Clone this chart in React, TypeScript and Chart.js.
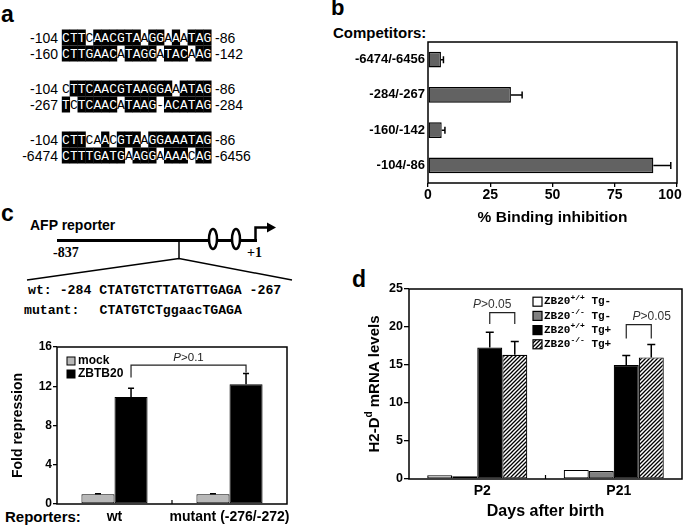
import React, { useEffect, useRef } from 'react';
import { Chart, registerables } from 'chart.js';

Chart.register(...registerables);

const SANS = '"Liberation Sans", Arial, Helvetica, sans-serif';
const MONO = '"Liberation Mono", "Courier New", monospace';
const SERIF = '"Liberation Serif", "Times New Roman", serif';

// ---------- Panel a: sequence alignments ----------
const alignLeft = ['-104', '-160', '-104', '-267', '-104', '-6474'];
const alignSeq = [
  'CTTCAACGTAAGGAAATAG',
  'CTTGAACATAGGATACAAG',
  'CTTCAACGTAAGGAAATAG',
  'TCTCAACATAAG-ACATAG',
  'CTTCAACGTAAGGAAATAG',
  'CTTTGATGAAGGAAAACAG',
];
const alignRight = ['-86', '-142', '-86', '-284', '-86', '-6456'];
const alignWhite = [[4, 11, 14, 16], [8, 13, 17], [1, 15], [2, 8, 13], [4, 5, 7, 11], [9, 13, 17]];

// ---------- Panel b ----------
const competitorLabels = ['-6474/-6456', '-284/-267', '-160/-142', '-104/-86'];
const bindingInhibition = [5.2, 33.3, 5.5, 90.5];
const bindingInhibitionErr = [1.0, 4.5, 1.3, 7.0];

// ---------- Panel c ----------
const reporterLabels = ['wt', 'mutant (-276/-272)'];
const mockFold = [1.0, 1.0];
const mockFoldErr = [0.05, 0.05];
const zbtb20Fold = [10.9, 12.2];
const zbtb20FoldErr = [0.9, 1.1];
const legendC = ['mock', 'ZBTB20'];

// ---------- Panel d ----------
const dayLabels = ['P2', 'P21'];
const wtTgNeg = [0.5, 1.2];
const koTgNeg = [0.35, 1.05];
const wtTgPos = [17.3, 15.0];
const wtTgPosErr = [2.0, 1.25];
const koTgPos = [16.35, 16.0];
const koTgPosErr = [1.75, 1.7];
const legendD = [
  ['ZB20', '+/+', ' Tg-'],
  ['ZB20', '-/-', ' Tg-'],
  ['ZB20', '+/+', ' Tg+'],
  ['ZB20', '-/-', ' Tg+'],
];

const fixBox = (w?: number, h?: number) => (s: any) => {
  if (w !== undefined) s.width = w;
  if (h !== undefined) s.height = h;
  s.paddingLeft = 0;
  s.paddingRight = 0;
  s.paddingTop = 0;
  s.paddingBottom = 0;
};

const framePlugin = {
  id: 'frame',
  afterDatasetsDraw(chart: any) {
    const { ctx, chartArea: a } = chart;
    ctx.save();
    ctx.strokeStyle = '#000';
    ctx.lineWidth = 1.5;
    ctx.strokeRect(a.left, a.top, a.right - a.left, a.bottom - a.top);
    ctx.restore();
  },
};

// nudge the last x tick label inwards (as in the original figure)
const lastLabelShift = (dx: number) => ({
  id: 'lastLabelShift',
  beforeDraw(chart: any) {
    const items = chart.scales.x.getLabelItems();
    const last = items[items.length - 1];
    if (last && !last.__shifted) {
      last.options.translation[0] += dx;
      last.__shifted = true;
    }
  },
});

function errorBarsPlugin(errs: (number[] | null)[], horizontal: boolean, cap: number, lw: number) {
  return {
    id: 'errbars',
    afterDatasetsDraw(chart: any) {
      const ctx = chart.ctx;
      const vs = horizontal ? chart.scales.x : chart.scales.y;
      ctx.save();
      ctx.strokeStyle = '#000';
      ctx.lineWidth = lw;
      errs.forEach((arr, di) => {
        if (!arr) return;
        const meta = chart.getDatasetMeta(di);
        meta.data.forEach((el: any, i: number) => {
          const e = arr[i];
          if (!e) return;
          const v = chart.data.datasets[di].data[i] as number;
          const p0 = vs.getPixelForValue(v);
          const p1 = vs.getPixelForValue(v + e);
          ctx.beginPath();
          if (horizontal) {
            ctx.moveTo(p0, el.y); ctx.lineTo(p1, el.y);
            ctx.moveTo(p1, el.y - cap / 2); ctx.lineTo(p1, el.y + cap / 2);
          } else {
            ctx.moveTo(el.x, p0); ctx.lineTo(el.x, p1);
            ctx.moveTo(el.x - cap / 2, p1); ctx.lineTo(el.x + cap / 2, p1);
          }
          ctx.stroke();
        });
      });
      ctx.restore();
    },
  };
}

const midTickPlugin = (len: number) => ({
  id: 'midtick',
  afterDatasetsDraw(chart: any) {
    const { ctx, chartArea: a } = chart;
    const xs = chart.scales.x;
    ctx.save();
    ctx.strokeStyle = '#000';
    ctx.lineWidth = 1.2;
    ctx.beginPath();
    for (let i = 0; i < xs.ticks.length - 1; i++) {
      const m = (xs.getPixelForValue(i) + xs.getPixelForValue(i + 1)) / 2;
      ctx.moveTo(m, a.bottom);
      ctx.lineTo(m, a.bottom - len);
    }
    ctx.stroke();
    ctx.restore();
  },
});

function drawBracket(ctx: any, x0: number, x1: number, yTop: number, yB0: number, yB1: number) {
  ctx.beginPath();
  ctx.moveTo(x0, yB0);
  ctx.lineTo(x0, yTop);
  ctx.lineTo(x1, yTop);
  ctx.lineTo(x1, yB1);
  ctx.stroke();
}

function drawPText(ctx: any, cx: number, cy: number, size: number, rest: string) {
  ctx.font = `italic ${size}px ${SANS}`;
  const wP = ctx.measureText('P').width;
  ctx.font = `${size}px ${SANS}`;
  const wR = ctx.measureText(rest).width;
  const x0 = cx - (wP + wR) / 2;
  ctx.textBaseline = 'middle';
  ctx.textAlign = 'left';
  ctx.font = `italic ${size}px ${SANS}`;
  ctx.fillText('P', x0, cy);
  ctx.font = `${size}px ${SANS}`;
  ctx.fillText(rest, x0 + wP, cy);
}

function drawSupParts(ctx: any, x: number, y: number, parts: [string, boolean][], base: string, sup: string, rise: number) {
  let cx = x;
  ctx.textBaseline = 'middle';
  ctx.textAlign = 'left';
  parts.forEach(([t, s]) => {
    ctx.font = s ? sup : base;
    ctx.fillText(t, cx, s ? y - rise : y);
    cx += ctx.measureText(t).width;
  });
  return cx - x;
}

function measureParts(ctx: any, parts: [string, boolean][], base: string, sup: string) {
  let w = 0;
  parts.forEach(([t, s]) => {
    ctx.font = s ? sup : base;
    w += ctx.measureText(t).width;
  });
  return w;
}

export default function App() {
  const bRef = useRef<HTMLCanvasElement>(null);
  const cRef = useRef<HTMLCanvasElement>(null);
  const dRef = useRef<HTMLCanvasElement>(null);

  useEffect(() => {
    Chart.defaults.color = '#000';
    Chart.defaults.font.family = SANS;
    const charts: Chart[] = [];

    // ---------- b ----------
    charts.push(
      new Chart(bRef.current as HTMLCanvasElement, {
        type: 'bar',
        data: {
          labels: competitorLabels,
          datasets: [
            {
              label: '% Binding inhibition',
              data: bindingInhibition,
              backgroundColor: '#626262',
              borderColor: '#000',
              borderWidth: 1.3,
              borderSkipped: false,
              barPercentage: 0.44,
              categoryPercentage: 1,
            },
          ],
        },
        options: {
          indexAxis: 'y',
          animation: false,
          responsive: false,
          maintainAspectRatio: false,
          layout: { padding: { left: 0, right: 8, top: 22, bottom: 0 } },
          plugins: { legend: { display: false }, tooltip: { enabled: false } },
          scales: {
            x: {
              type: 'linear',
              min: 0,
              max: 100,
              ticks: { stepSize: 25, padding: 0, maxRotation: 0, font: { size: 14, weight: 'bold' } },
              grid: { drawOnChartArea: false, drawTicks: true, tickLength: 4, color: '#000', lineWidth: 1.3 },
              border: { display: false },
              title: {
                display: true,
                text: '% Binding inhibition',
                font: { size: 15.5, weight: 'bold' },
                padding: { top: 0, bottom: 8 },
              },
              afterFit: fixBox(undefined, 52),
            },
            y: {
              grid: { display: false, drawTicks: false },
              border: { display: false },
              ticks: { padding: 3, font: { size: 13, weight: 'bold' } },
              afterFit: fixBox(98),
            },
          },
        },
        plugins: [lastLabelShift(-7), errorBarsPlugin([bindingInhibitionErr], true, 7, 1.5), framePlugin],
      } as any)
    );

    // ---------- c ----------
    const bracketC = {
      id: 'bracketC',
      afterDatasetsDraw(chart: any) {
        const { ctx, chartArea: a } = chart;
        const ys = chart.scales.y;
        const m = chart.getDatasetMeta(1);
        const x0 = m.data[0].x;
        const x1 = m.data[1].x;
        ctx.save();
        ctx.strokeStyle = '#222';
        ctx.lineWidth = 1.2;
        drawBracket(ctx, x0, x1, ys.getPixelForValue(14.15), ys.getPixelForValue(12.9), ys.getPixelForValue(13.4));
        ctx.fillStyle = '#222';
        drawPText(ctx, (x0 + x1) / 2, ys.getPixelForValue(14.15) - 7, 11.5, '>0.1');
        // legend
        const fills = ['#b8b8b8', '#000'];
        ctx.font = `bold 12px ${SANS}`;
        legendC.forEach((t, i) => {
          const cy = a.top + 14 + i * 13;
          ctx.fillStyle = fills[i];
          ctx.fillRect(a.left + 10, cy - 4, 8, 8);
          ctx.strokeStyle = '#000';
          ctx.lineWidth = 1;
          ctx.strokeRect(a.left + 10, cy - 4, 8, 8);
          ctx.fillStyle = '#000';
          ctx.textBaseline = 'middle';
          ctx.textAlign = 'left';
          ctx.font = `bold 12px ${SANS}`;
          ctx.fillText(t, a.left + 21, cy);
        });
        ctx.restore();
      },
    };
    charts.push(
      new Chart(cRef.current as HTMLCanvasElement, {
        type: 'bar',
        data: {
          labels: reporterLabels,
          datasets: [
            {
              label: 'mock',
              data: mockFold,
              backgroundColor: '#b8b8b8',
              borderColor: '#000',
              borderWidth: 1,
              borderSkipped: false,
              barPercentage: 1,
              categoryPercentage: 0.575,
            },
            {
              label: 'ZBTB20',
              data: zbtb20Fold,
              backgroundColor: '#000',
              borderColor: '#000',
              borderWidth: 1,
              borderSkipped: false,
              barPercentage: 1,
              categoryPercentage: 0.575,
            },
          ],
        },
        options: {
          animation: false,
          responsive: false,
          maintainAspectRatio: false,
          layout: { padding: { left: 0, right: 13, top: 12, bottom: 0 } },
          plugins: { legend: { display: false }, tooltip: { enabled: false } },
          scales: {
            x: {
              grid: { display: false, drawTicks: false },
              border: { display: false },
              ticks: { padding: 4.6, autoSkip: false, maxRotation: 0, minRotation: 0, font: { size: 14, weight: 'bold' } },
              afterFit: fixBox(undefined, 23),
            },
            y: {
              min: 0,
              max: 16,
              ticks: { stepSize: 4, padding: 1, font: { size: 12, weight: 'bold' } },
              grid: { drawOnChartArea: false, drawTicks: true, tickLength: 4, color: '#000', lineWidth: 1.3 },
              border: { display: false },
              title: {
                display: true,
                text: 'Fold repression',
                font: { size: 14, weight: 'bold' },
                padding: { top: 9.6, bottom: 0 },
              },
              afterFit: fixBox(57),
            },
          },
        },
        plugins: [errorBarsPlugin([mockFoldErr, zbtb20FoldErr], false, 6, 1.5), framePlugin, midTickPlugin(4), bracketC],
      } as any)
    );

    // ---------- d ----------
    const pc = document.createElement('canvas');
    pc.width = 4;
    pc.height = 4;
    const g = pc.getContext('2d') as CanvasRenderingContext2D;
    g.fillStyle = '#fff';
    g.fillRect(0, 0, 4, 4);
    g.strokeStyle = '#000';
    g.lineWidth = 1.3;
    g.beginPath();
    g.moveTo(-1, 5); g.lineTo(5, -1);
    g.moveTo(-1, 1); g.lineTo(1, -1);
    g.moveTo(3, 5); g.lineTo(5, 3);
    g.stroke();
    const dctx = (dRef.current as HTMLCanvasElement).getContext('2d') as CanvasRenderingContext2D;
    const hatch = dctx.createPattern(pc, 'repeat');
    const fillsD: any[] = ['#fff', '#808080', '#000', hatch];

    const annotD = {
      id: 'annotD',
      afterDatasetsDraw(chart: any) {
        const { ctx, chartArea: a } = chart;
        const ys = chart.scales.y;
        const m2 = chart.getDatasetMeta(2);
        const m3 = chart.getDatasetMeta(3);
        const brackets = [
          { i: 0, top: 21.9, bottom: 20.4, textY: 23.0, dx: -10 },
          { i: 1, top: 20.3, bottom: 18.5, textY: 21.4, dx: 13 },
        ];
        ctx.save();
        ctx.strokeStyle = '#222';
        ctx.fillStyle = '#333';
        ctx.lineWidth = 1.2;
        brackets.forEach((b) => {
          const x0 = m2.data[b.i].x;
          const x1 = m3.data[b.i].x;
          const yb = ys.getPixelForValue(b.bottom);
          ctx.strokeStyle = '#222';
          ctx.lineWidth = 1.2;
          drawBracket(ctx, x0, x1, ys.getPixelForValue(b.top), yb, yb);
          ctx.fillStyle = '#333';
          drawPText(ctx, (x0 + x1) / 2 + b.dx, ys.getPixelForValue(b.textY), 12, '>0.05');
        });
        // legend
        const base = `bold 11px ${MONO}`;
        const sup = `bold 8px ${MONO}`;
        legendD.forEach((p, i) => {
          const cy = a.top + 12.7 + i * 14.2;
          const sx = a.left + 124;
          ctx.fillStyle = fillsD[i];
          ctx.fillRect(sx, cy - 4.5, 9, 9);
          ctx.strokeStyle = '#000';
          ctx.lineWidth = 1.2;
          ctx.strokeRect(sx, cy - 4.5, 9, 9);
          ctx.fillStyle = '#000';
          drawSupParts(ctx, sx + 11, cy, [[p[0], false], [p[1], true], [p[2], false]], base, sup, 4);
        });
        // y axis title with superscript
        const parts: [string, boolean][] = [['H2-D', false], ['d', true], [' mRNA levels', false]];
        const tb = `bold 15px ${SANS}`;
        const ts = `bold 10px ${SANS}`;
        const w = measureParts(ctx, parts, tb, ts);
        ctx.translate(35, (a.top + a.bottom) / 2);
        ctx.rotate(-Math.PI / 2);
        ctx.fillStyle = '#000';
        drawSupParts(ctx, -w / 2, 0, parts, tb, ts, 6);
        ctx.restore();
      },
    };

    const dsD = (label: string, data: number[], i: number) => ({
      label,
      data,
      backgroundColor: fillsD[i],
      borderColor: '#000',
      borderWidth: 1.2,
      borderSkipped: false,
      barPercentage: 1,
      categoryPercentage: 0.733,
    });

    charts.push(
      new Chart(dRef.current as HTMLCanvasElement, {
        type: 'bar',
        data: {
          labels: dayLabels,
          datasets: [
            dsD('ZB20+/+ Tg-', wtTgNeg, 0),
            dsD('ZB20-/- Tg-', koTgNeg, 1),
            dsD('ZB20+/+ Tg+', wtTgPos, 2),
            dsD('ZB20-/- Tg+', koTgPos, 3),
          ],
        },
        options: {
          animation: false,
          responsive: false,
          maintainAspectRatio: false,
          layout: { padding: { left: 0, right: 3, top: 9, bottom: 0 } },
          plugins: { legend: { display: false }, tooltip: { enabled: false } },
          scales: {
            x: {
              grid: { display: false, drawTicks: false },
              border: { display: false },
              ticks: { padding: 3.6, labelOffset: 5, autoSkip: false, maxRotation: 0, minRotation: 0, font: { size: 14, weight: 'bold' } },
              title: {
                display: true,
                text: 'Days after birth',
                font: { size: 16, weight: 'bold' },
                padding: { top: 0, bottom: 5.4 },
              },
              afterFit: fixBox(undefined, 48),
            },
            y: {
              min: 0,
              max: 25,
              ticks: { stepSize: 5, padding: 1, font: { size: 12.5, weight: 'bold' } },
              grid: { drawOnChartArea: false, drawTicks: true, tickLength: 5, color: '#000', lineWidth: 1.3 },
              border: { display: false },
              afterFit: fixBox(69),
            },
          },
        },
        plugins: [errorBarsPlugin([null, null, wtTgPosErr, koTgPosErr], false, 8, 1.5), framePlugin, midTickPlugin(4), annotD],
      } as any)
    );

    return () => charts.forEach((c) => c.destroy());
  }, []);

  const cw = 7.86;
  const seqX = 62;
  const rowY = [37.5, 53.5, 88.5, 104.5, 139.5, 155.5];

  return (
    <div style={{ position: 'absolute', left: 0, top: 0, width: 685, height: 527, background: '#fff', overflow: 'hidden' }}>
      <svg width={685} height={527} style={{ position: 'absolute', left: 0, top: 0 }}>
        {/* panel letters */}
        <text x={1} y={22} fontFamily={SANS} fontWeight="bold" fontSize={23}>a</text>
        <text x={331} y={15} fontFamily={SANS} fontWeight="bold" fontSize={22}>b</text>
        <text x={1} y={221} fontFamily={SANS} fontWeight="bold" fontSize={23}>c</text>
        <text x={352} y={287} fontFamily={SANS} fontWeight="bold" fontSize={23}>d</text>

        {/* panel a alignments */}
        {alignSeq.map((seq, r) => (
          <g key={r}>
            <text x={58} y={rowY[r] + 5} textAnchor="end" fontFamily={SANS} fontSize={14}>{alignLeft[r]}</text>
            {seq.split('').map((ch, k) => {
              const white = alignWhite[r].includes(k + 1);
              const x = seqX + k * cw;
              return (
                <g key={k}>
                  {!white && <rect x={x - 0.2} y={rowY[r] - 8} width={cw + 0.4} height={16} fill="#000" />}
                  <text x={x + cw / 2} y={rowY[r] + 4.5} textAnchor="middle" fontFamily={MONO} fontSize={13} fill={white ? '#000' : '#fff'}>{ch}</text>
                </g>
              );
            })}
            <text x={215} y={rowY[r] + 5} fontFamily={SANS} fontSize={14}>{alignRight[r]}</text>
          </g>
        ))}

        {/* panel b heading */}
        <text x={333} y={38} fontFamily={SANS} fontWeight="bold" fontSize={15}>Competitors:</text>

        {/* panel c schematic */}
        <text x={30} y={230} fontFamily={SANS} fontWeight="bold" fontSize={14}>AFP reporter</text>
        <line x1={57} y1={240.5} x2={257} y2={240.5} stroke="#000" strokeWidth={3} />
        <line x1={179} y1={240} x2={179} y2={258.5} stroke="#000" strokeWidth={1.5} />
        <polyline points="27,280 179,258.5 292,280" fill="none" stroke="#000" strokeWidth={1.5} />
        <ellipse cx={213} cy={239} rx={4} ry={10} fill="#fff" stroke="#000" strokeWidth={2.5} />
        <ellipse cx={236} cy={239} rx={4} ry={10} fill="#fff" stroke="#000" strokeWidth={2.5} />
        <polyline points="255.5,242 255.5,227.5 268,227.5" fill="none" stroke="#000" strokeWidth={2.5} />
        <polygon points="267,222.5 276,227.5 267,232.5" fill="#000" />
        <text x={53} y={256.5} fontFamily={SERIF} fontWeight="bold" fontSize={14}>-837</text>
        <text x={247} y={256.5} fontFamily={SERIF} fontWeight="bold" fontSize={14}>+1</text>
        <text x={28} y={293.5} fontFamily={MONO} fontWeight="bold" fontSize={13.2} style={{ whiteSpace: 'pre' }}>{'wt: -284 CTATGTCTTATGTTGAGA -267'}</text>
        <text x={24} y={313.5} fontFamily={MONO} fontWeight="bold" fontSize={13.2}>mutant:</text>
        <text x={99.5} y={313.5} fontFamily={MONO} fontWeight="bold" fontSize={13.2}>CTATGTCTggaacTGAGA</text>

        {/* panel c x heading */}
        <text x={5} y={522} fontFamily={SANS} fontWeight="bold" fontSize={15}>Reporters:</text>
      </svg>
      <canvas ref={bRef} width={355} height={215} style={{ position: 'absolute', left: 330, top: 20, width: 355, height: 215 }} />
      <canvas ref={cRef} width={300} height={192} style={{ position: 'absolute', left: 0, top: 335, width: 300, height: 192 }} />
      <canvas ref={dRef} width={345} height={247} style={{ position: 'absolute', left: 340, top: 280, width: 345, height: 247 }} />
    </div>
  );
}
